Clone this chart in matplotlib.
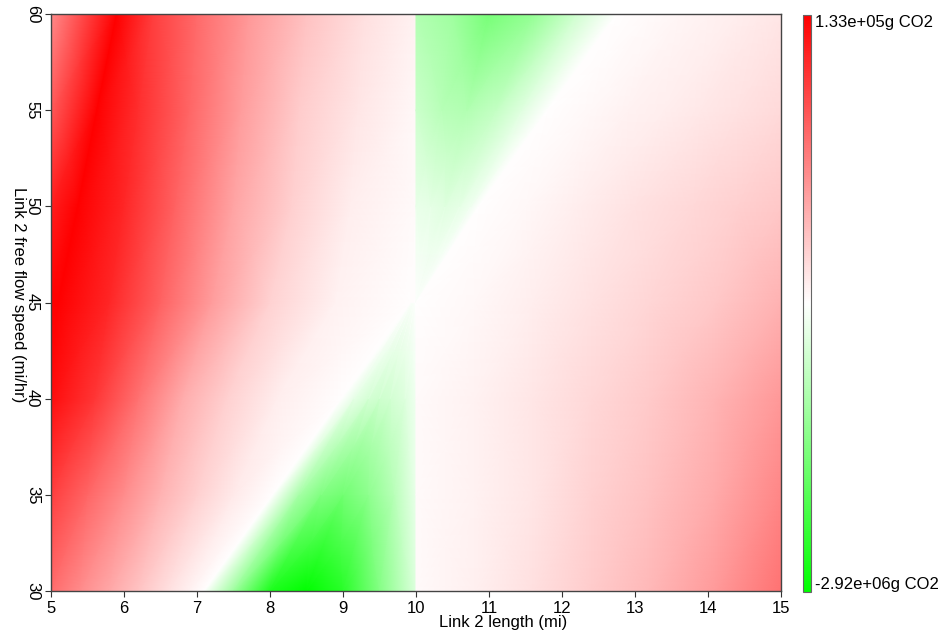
import numpy as np
import matplotlib.pyplot as plt
from matplotlib.colors import LinearSegmentedColormap, TwoSlopeNorm

plt.rcParams['font.family'] = ['Liberation Sans', 'DejaVu Sans']

# link 2 free flow speed rows (mi/hr)
speeds = [30, 35, 40, 45, 50, 55, 60]

# emission difference in thousands of g CO2.
# each row holds knots along link 2 length (mi); the field jumps at 10 mi,
# so the part left of 10 mi and the part right of it are kept apart.
left_len = [
    [5.0, 5.0, 5.4, 5.8, 6.2, 6.6, 6.9, 7.1, 7.5, 8.0, 8.5, 9.0, 9.5, 10.0],
    [5.0, 5.0, 5.5, 6.0, 6.5, 7.0, 7.5, 8.04, 8.4, 8.7, 9.0, 9.35, 9.7, 10.0],
    [5.0, 5.0, 5.6, 6.2, 6.8, 7.4, 8.1, 8.98, 9.15, 9.35, 9.5, 9.65, 9.85, 10.0],
    [5.0, 5.1, 5.8, 6.5, 7.2, 8.0, 8.9, 9.93, 9.94, 9.95, 9.96, 9.97, 9.98, 10.0],
    [5.0, 5.37, 6.0, 6.7, 7.5, 8.3, 9.1, 10.0, 10.0, 10.0, 10.0, 10.0, 10.0, 10.0],
    [5.0, 5.63, 6.2, 6.9, 7.6, 8.4, 9.2, 10.0, 10.0, 10.0, 10.0, 10.0, 10.0, 10.0],
    [5.0, 5.9, 6.4, 7.0, 7.7, 8.5, 9.3, 10.0, 10.0, 10.0, 10.0, 10.0, 10.0, 10.0],
]
left_co2 = [
    [76, 76, 60, 45, 31, 16, 7, 0, -1100, -2600, -2920, -2450, -1400, -380],
    [100, 100, 80, 60, 40, 24, 11, 0, -1020, -1460, -1600, -1300, -800, -250],
    [126, 126, 104, 73, 43, 24, 9, 0, -290, -500, -560, -520, -380, -180],
    [133, 133, 113, 82, 51, 23, 7, 0, 0, 0, 0, 0, 0, 0],
    [117, 133, 113, 82, 47, 24, 9, 3, 3, 3, 3, 3, 3, 3],
    [86, 133, 109, 80, 51, 27, 13, 4, 4, 4, 4, 4, 4, 4],
    [60, 133, 100, 77, 53, 32, 16, 7, 7, 7, 7, 7, 7, 7],
]
right_len = [
    [10.0, 10.0, 10.0, 10.0, 10.0, 10.0, 10.8, 11.6, 12.4, 13.2, 14.1, 15.0],
    [10.0, 10.0, 10.0, 10.0, 10.0, 10.0, 10.8, 11.6, 12.4, 13.2, 14.1, 15.0],
    [10.0, 10.0, 10.0, 10.0, 10.0, 10.0, 10.8, 11.6, 12.4, 13.2, 14.1, 15.0],
    [10.0, 10.0, 10.0, 10.0, 10.0, 10.0, 10.8, 11.6, 12.4, 13.2, 14.1, 15.0],
    [10.0, 10.2, 10.4, 10.6, 10.75, 10.86, 11.5, 12.2, 13.0, 13.8, 14.4, 15.0],
    [10.0, 10.35, 10.7, 11.1, 11.45, 11.8, 12.4, 12.9, 13.4, 13.9, 14.4, 15.0],
    [10.0, 10.5, 11.0, 11.6, 12.2, 12.75, 13.2, 13.6, 14.0, 14.4, 14.7, 15.0],
]
right_co2 = [
    [3, 3, 3, 3, 3, 3, 8, 16, 27, 37, 52, 73],
    [3, 3, 3, 3, 3, 3, 7, 13, 23, 32, 44, 63],
    [3, 3, 3, 3, 3, 3, 7, 13, 20, 28, 39, 53],
    [1, 1, 1, 1, 1, 1, 4, 9, 15, 21, 29, 40],
    [-234, -292, -350, -292, -175, 0, 4, 9, 15, 20, 24, 29],
    [-584, -818, -876, -672, -350, 0, 4, 7, 9, 12, 15, 19],
    [-876, -1080, -1548, -1226, -526, 0, 3, 5, 7, 9, 11, 13],
]

x_ticks = [5, 6, 7, 8, 9, 10, 11, 12, 13, 14, 15]
y_ticks = [30, 35, 40, 45, 50, 55, 60]

left_z = np.array(left_co2) * 1e3
right_z = np.array(right_co2) * 1e3
vmin = min(left_z.min(), right_z.min())
vmax = max(left_z.max(), right_z.max())

cmap = LinearSegmentedColormap.from_list('gwr', ['#00ff00', '#ffffff', '#ff0000'])
norm = TwoSlopeNorm(vcenter=0, vmin=vmin, vmax=vmax)

fig = plt.figure(figsize=(9.42, 6.36), dpi=100)
ax = fig.add_axes([0.0541, 0.0708, 0.775, 0.907])

for lens, z in [(left_len, left_z), (right_len, right_z)]:
    X = np.array(lens)
    Y = np.repeat(np.array(speeds, dtype=float)[:, None], X.shape[1], axis=1)
    mesh = ax.pcolormesh(X, Y, z, cmap=cmap, norm=norm, shading='gouraud')

ax.set_xlim(5, 15)
ax.set_ylim(30, 60)
ax.set_xticks(x_ticks)
ax.set_yticks(y_ticks)
ax.tick_params(direction='out', length=4, width=0.8, color='#333333', labelsize=12)
ax.tick_params(axis='x', pad=3)
ax.tick_params(axis='y', pad=4)
for lab in ax.get_yticklabels():
    lab.set_rotation(-90)
    lab.set_va('center')
for s in ax.spines.values():
    s.set_color('#444444')
    s.set_linewidth(1)

ax.set_xlabel('Link 2 length (mi)', fontsize=12)
ax.xaxis.set_label_coords(0.62, -0.041)
ax.set_ylabel('Link 2 free flow speed (mi/hr)', fontsize=12, rotation=-90, va='center', ha='center')
ax.yaxis.set_label_coords(-0.045, 0.513)

cax = fig.add_axes([0.8524, 0.069, 0.0085, 0.908])
cb = fig.colorbar(mesh, cax=cax, ticks=[])
cb.outline.set_edgecolor('#666666')
cb.outline.set_linewidth(0.8)
cax.text(1.5, 1.0, f'{vmax:.2e}g CO2', transform=cax.transAxes, va='top', ha='left', fontsize=12)
cax.text(1.5, 0.0, f'{vmin:.2e}g CO2', transform=cax.transAxes, va='bottom', ha='left', fontsize=12)

fig.savefig('out.png', dpi=100)
